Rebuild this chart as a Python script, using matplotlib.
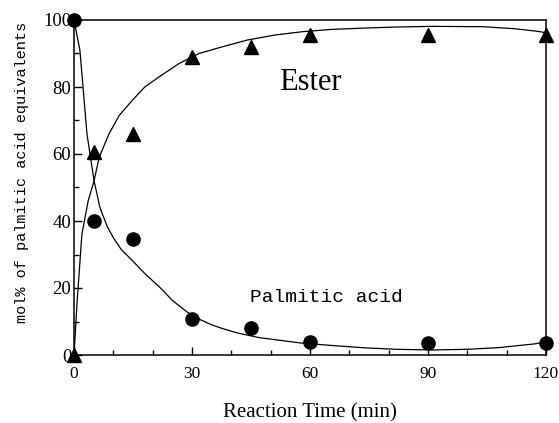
import matplotlib
matplotlib.use("Agg")
import matplotlib.pyplot as plt
from matplotlib.ticker import MultipleLocator

# Measured points
time_pts = [0, 5, 15, 30, 45, 60, 90, 120]
ester_pts = [0, 60.5, 66, 89, 92, 95.5, 95.5, 95.5]
acid_pts = [100, 40, 34.5, 10.7, 8, 4, 3.6, 3.6]

# Fitted curves
ester_curve_t = [0, 0.8, 2, 3.6, 5.1, 6.4, 8.9, 11.5, 14.8, 18, 21.6, 26.7, 31.8, 37.7, 44, 51, 58, 65.6, 74, 82, 91, 104, 112, 118, 120]
ester_curve_y = [0, 16, 36, 46, 52, 59, 66, 71.5, 76, 80, 83, 87, 90, 92, 94, 95.5, 96.5, 97.2, 97.6, 97.9, 98.1, 98, 97.4, 96.6, 96.2]
acid_curve_t = [0, 1.5, 3.3, 5.1, 6.6, 8.4, 10, 12, 15, 18, 22, 25, 28.8, 32, 35, 38, 41.5, 47, 57.5, 66, 74.5, 82, 91, 100, 108, 117, 120]
acid_curve_y = [100, 91, 66, 52, 44, 38.5, 35, 31.5, 28, 24.3, 20, 16.3, 12.8, 10.6, 9.0, 7.8, 6.6, 5.2, 3.6, 2.8, 2.1, 1.7, 1.5, 1.7, 2.2, 3.3, 3.9]

x_ticks = [0, 30, 60, 90, 120]
y_ticks = [0, 20, 40, 60, 80, 100]

fig = plt.figure(figsize=(5.59, 4.23), dpi=100)
ax = fig.add_axes([74/559, 68/423, (546-74)/559, (355-20)/423])

ax.plot(ester_curve_t, ester_curve_y, color="black", lw=0.9, zorder=2)
ax.plot(acid_curve_t, acid_curve_y, color="black", lw=0.9, zorder=2)
ax.plot(time_pts, ester_pts, linestyle="none", marker="^", color="black", markersize=10, clip_on=False, zorder=3)
ax.plot(time_pts, acid_pts, linestyle="none", marker="o", color="black", markersize=9.5, clip_on=False, zorder=3)

ax.set_xlim(0, 120)
ax.set_ylim(0, 100)
ax.set_xticks(x_ticks)
ax.set_yticks(y_ticks)
ax.xaxis.set_minor_locator(MultipleLocator(10))
ax.yaxis.set_minor_locator(MultipleLocator(10))
ax.tick_params(which="both", direction="in", top=False, right=False, width=1.0)
ax.tick_params(which="major", length=6)
ax.tick_params(which="minor", length=3.5)
ax.tick_params(axis="x", which="major", pad=8)
ax.tick_params(axis="y", which="major", pad=2)
for lbl in ax.get_xticklabels():
    lbl.set_fontfamily("Liberation Serif")
    lbl.set_fontsize(12.5)
for lbl in ax.get_yticklabels():
    lbl.set_fontfamily("Liberation Serif")
    lbl.set_fontsize(13.5)
for s in ax.spines.values():
    s.set_linewidth(1.1)

ax.set_xlabel("Reaction Time (min)", fontfamily="Liberation Serif", fontsize=15, labelpad=15)
fig.text(22/559, 1 - 172/423, "mol% of palmitic acid equivalents", rotation=90,
         ha="center", va="center", fontfamily="Liberation Mono", fontsize=11)

fig.text(310/559, 1 - 83/423, "Ester", ha="center", va="center", fontfamily="Liberation Serif", fontsize=22)
fig.text(326/559, 1 - 297/423, "Palmitic acid", ha="center", va="center", fontfamily="Liberation Mono", fontsize=14)

fig.savefig("out.png", dpi=100)
